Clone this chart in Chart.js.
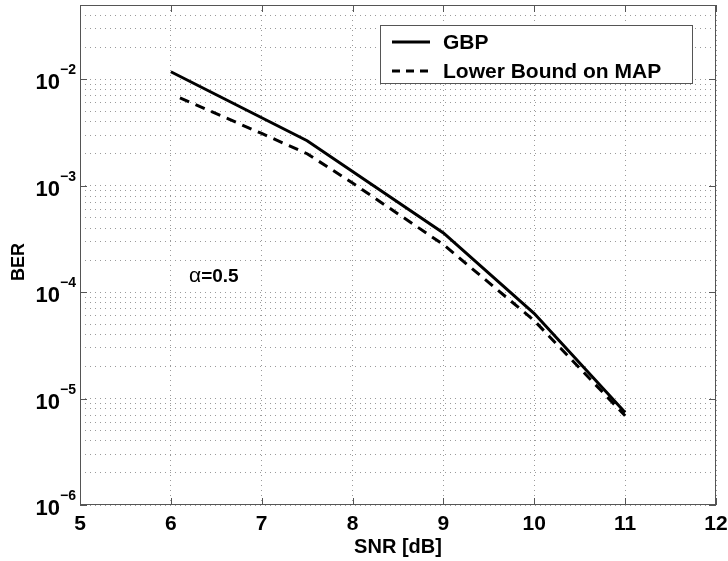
<!DOCTYPE html>
<html>
<head>
<meta charset="utf-8">
<script src="https://cdn.jsdelivr.net/npm/chart.js@4.4.1/dist/chart.umd.min.js"></script>
<style>
  html, body { margin: 0; padding: 0; background: #fff; }
  canvas { display: block; }
</style>
</head>
<body>
<canvas id="berChart" width="728" height="561"></canvas>
<script>
// --- Data ---
const snrGbp = [6, 7.5, 9, 10, 11];
const berGbp = [1.18e-2, 2.65e-3, 3.6e-4, 6.3e-5, 7.4e-6];

const snrBound = [6.1, 7, 7.5, 8, 9, 10, 11];
const berBound = [6.7e-3, 3.1e-3, 2.0e-3, 1.06e-3, 2.8e-4, 5.4e-5, 6.9e-6];

const xTicks = [5, 6, 7, 8, 9, 10, 11, 12];
const yDecades = [-6, -5, -4, -3, -2];
const yMinorSteps = [1, 2, 3, 4, 5, 6, 7, 8, 9];
const yMin = 1e-6, yMax = 5e-2;

const seriesNames = ['GBP', 'Lower Bound on MAP'];

const FONT = '"Liberation Sans", Arial, Helvetica, sans-serif';
const GRID = '#9a9a9a';
const AXIS = '#555';

function toPoints(xs, ys) {
    return xs.map((x, i) => ({ x: x, y: ys[i] }));
}

// every minor/major position in the y range
const yGridValues = [];
yDecades.forEach(e => {
    yMinorSteps.forEach(m => {
        const v = m * Math.pow(10, e);
        if (v <= yMax * 1.0001) yGridValues.push(v);
    });
});

// --- Decorations: frame, inner ticks, y labels, legend, annotations ---
const decor = {
    id: 'decor',
    afterDraw(chart) {
        const { ctx, chartArea: a, scales } = chart;
        const xs = scales.x, ys = scales.y;
        ctx.save();

        // frame
        ctx.strokeStyle = AXIS;
        ctx.lineWidth = 1;
        ctx.setLineDash([]);
        ctx.strokeRect(Math.round(a.left) + 0.5, Math.round(a.top) + 0.5,
            Math.round(a.right - a.left) - 1, Math.round(a.bottom - a.top) - 1);

        // inner major ticks
        const tl = 7;
        ctx.beginPath();
        xTicks.forEach(v => {
            const px = Math.round(xs.getPixelForValue(v)) + 0.5;
            ctx.moveTo(px, a.bottom); ctx.lineTo(px, a.bottom - tl);
            ctx.moveTo(px, a.top); ctx.lineTo(px, a.top + tl);
        });
        yDecades.forEach(e => {
            const py = Math.round(ys.getPixelForValue(Math.pow(10, e))) + 0.5;
            ctx.moveTo(a.left, py); ctx.lineTo(a.left + tl, py);
            ctx.moveTo(a.right, py); ctx.lineTo(a.right - tl, py);
        });
        ctx.stroke();

        // y tick labels 10^e
        ctx.fillStyle = '#000';
        yDecades.forEach(e => {
            const py = ys.getPixelForValue(Math.pow(10, e));
            ctx.font = 'bold 14px ' + FONT;
            ctx.textAlign = 'right';
            ctx.textBaseline = 'alphabetic';
            const exp = '\u2212' + Math.abs(e);
            const w = ctx.measureText(exp).width;
            ctx.fillText(exp, 76, py - 5);
            ctx.font = 'bold 22px ' + FONT;
            ctx.fillText('10', 76 - w, py + 10);
        });

        // axis titles
        ctx.font = 'bold 20px ' + FONT;
        ctx.textAlign = 'center';
        ctx.textBaseline = 'middle';
        ctx.fillText('SNR [dB]', (a.left + a.right) / 2, 547);
        ctx.save();
        ctx.translate(19, 262);
        ctx.rotate(-Math.PI / 2);
        ctx.font = 'bold 18px ' + FONT;
        ctx.fillText('BER', 0, 0);
        ctx.restore();

        // alpha annotation
        ctx.textAlign = 'left';
        ctx.textBaseline = 'alphabetic';
        ctx.font = '21px ' + FONT;
        ctx.fillText('\u03b1', 189, 282);
        const aw = ctx.measureText('\u03b1').width;
        ctx.font = 'bold 19px ' + FONT;
        ctx.fillText('=0.5', 189 + aw, 282);

        // legend
        const lx = 380, ly = 25, lw = 312, lh = 58;
        ctx.fillStyle = '#fff';
        ctx.fillRect(lx, ly, lw, lh);
        ctx.strokeStyle = AXIS;
        ctx.lineWidth = 1;
        ctx.strokeRect(lx + 0.5, ly + 0.5, lw, lh);
        const rows = [
            { y: 42, dash: [] },
            { y: 71, dash: [8, 6] }
        ];
        rows.forEach((r, i) => {
            ctx.strokeStyle = '#000';
            ctx.lineWidth = 3;
            ctx.setLineDash(r.dash);
            ctx.beginPath();
            ctx.moveTo(392, r.y);
            ctx.lineTo(430, r.y);
            ctx.stroke();
            ctx.setLineDash([]);
            ctx.fillStyle = '#000';
            ctx.font = 'bold 21px ' + FONT;
            ctx.textAlign = 'left';
            ctx.textBaseline = 'middle';
            ctx.fillText(seriesNames[i], 443, r.y + 1);
        });

        ctx.restore();
    }
};

new Chart(document.getElementById('berChart').getContext('2d'), {
    type: 'line',
    data: {
        datasets: [{
            label: seriesNames[0],
            data: toPoints(snrGbp, berGbp),
            borderColor: '#000',
            borderWidth: 3,
            pointRadius: 0,
            fill: false,
            tension: 0
        }, {
            label: seriesNames[1],
            data: toPoints(snrBound, berBound),
            borderColor: '#000',
            borderWidth: 3,
            borderDash: [10, 7],
            pointRadius: 0,
            fill: false,
            tension: 0
        }]
    },
    options: {
        responsive: false,
        animation: false,
        devicePixelRatio: 1,
        layout: { padding: { top: 5, right: 12, left: 0, bottom: 0 } },
        plugins: {
            legend: { display: false },
            tooltip: { enabled: false }
        },
        scales: {
            x: {
                type: 'linear',
                min: 5,
                max: 12,
                afterBuildTicks: s => { s.ticks = xTicks.map(v => ({ value: v })); },
                afterFit: s => { s.height = 56; s.paddingLeft = 0; s.paddingRight = 0; },
                ticks: {
                    color: '#000',
                    font: { family: FONT, size: 21, weight: 'bold' },
                    padding: 7,
                    autoSkip: false,
                    maxRotation: 0
                },
                grid: { color: GRID, lineWidth: 1, drawTicks: false },
                border: { display: false, dash: [1, 4] }
            },
            y: {
                type: 'logarithmic',
                min: yMin,
                max: yMax,
                afterBuildTicks: s => { s.ticks = yGridValues.map(v => ({ value: v })); },
                afterFit: s => { s.width = 80; s.paddingTop = 0; s.paddingBottom = 0; },
                ticks: { display: false, autoSkip: false },
                grid: { color: GRID, lineWidth: 1, drawTicks: false },
                border: { display: false, dash: [1, 4] }
            }
        }
    },
    plugins: [decor]
});
</script>
</body>
</html>
